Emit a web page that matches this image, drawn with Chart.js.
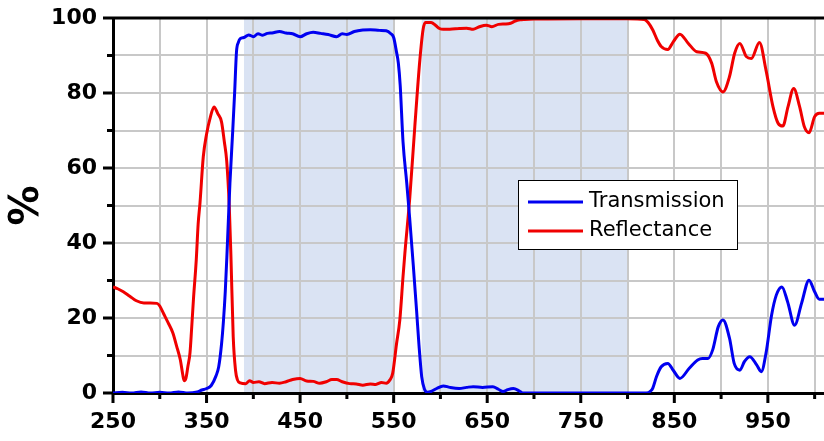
<!DOCTYPE html>
<html lang="en">
<head>
  <meta charset="UTF-8">
  <title>Transmission and Reflectance</title>
  <script src="https://cdn.jsdelivr.net/npm/chart.js"></script>
  <style>
    body {
      margin: 0;
      background: #fff;
    }
    #wrap {
      width: 824px;
      height: 441px;
      position: relative;
    }
  </style>
</head>
<body>
  <div id="wrap"><canvas id="spectrum"></canvas></div>

  <script>
    // wavelength (nm) and % values
    const transWl = [250, 260, 270, 280, 290, 300, 310, 320, 330, 340, 345, 350, 355, 360, 363, 366, 368, 370, 372, 375, 378, 380, 382, 384, 386, 390, 395, 400, 405, 410, 415, 420, 428, 435, 442, 450, 457, 464, 472, 480, 489, 495, 500, 508, 517, 525, 535, 542, 547, 550, 553, 555, 557, 560, 564, 567, 571, 574.5, 577, 580, 583, 586, 590, 596, 603, 610, 620, 628, 635, 645, 656, 662, 667, 672, 678, 684, 688, 700, 750, 800, 820, 825, 827, 831, 836, 843, 849, 856, 866, 875, 880, 886, 891, 897, 902, 909, 914, 920, 925, 930.6, 938, 943, 948, 954, 959, 965, 971, 978.6, 986, 994, 1000, 1005, 1010];
    const transVal = [0, 0.2, 0, 0.3, 0, 0.2, 0, 0.3, 0, 0.3, 0.8, 1.2, 2, 4.5, 7, 13, 19, 27, 38, 56, 70, 80, 91, 93.5, 94.5, 94.8, 95.5, 95, 95.8, 95.4, 95.9, 96, 96.4, 96, 95.8, 95, 95.8, 96.2, 95.9, 95.6, 95, 95.8, 95.6, 96.4, 96.8, 96.9, 96.7, 96.6, 95.8, 94.8, 91, 88, 82, 67, 56, 47, 34, 22, 13, 4.3, 1, 0.2, 0.4, 1.2, 1.9, 1.5, 1.2, 1.5, 1.7, 1.5, 1.7, 1, 0.4, 0.9, 1.2, 0.6, 0, 0, 0, 0, 0, 0.6, 1.3, 4.4, 7, 7.9, 6, 3.9, 6.6, 8.8, 9.2, 9.2, 11.5, 17.7, 19.5, 14.6, 7.9, 6.1, 8.4, 9.7, 7.5, 5.7, 10.6, 20.8, 26.1, 28.3, 24.4, 18.1, 23.9, 30.1, 27, 25, 25];

    const reflWl = [250, 255, 261, 268, 275, 283, 290, 297, 300, 304, 309, 314, 318, 322, 324.5, 326, 328, 330, 332.3, 334, 336, 339, 341, 343, 346.5, 350, 354, 358, 362, 366, 369, 371.5, 374.3, 376, 378.5, 381, 383, 386, 392, 396, 400, 406, 412, 420, 428, 435, 442, 450, 457, 464, 471, 478, 484, 489, 495, 503, 510, 517, 525, 531, 537, 542, 546, 549, 553, 556.6, 560, 562, 567.3, 572.6, 578, 581.5, 584, 590, 595, 599, 603, 610, 620, 628, 635, 641, 649, 655, 662, 670, 675, 680, 685, 690, 700, 750, 800, 818, 822, 827, 832, 836, 843, 849, 856, 865, 874, 883.5, 890, 895, 902, 909, 914.5, 920, 927, 932.3, 941, 948, 955.5, 961, 966, 971.5, 977.6, 984, 989, 994, 1000, 1005, 1010];
    const reflVal = [28.3, 27.8, 27, 25.8, 24.6, 24, 24, 23.9, 23.2, 21.2, 18.7, 16, 12.5, 8.8, 5, 3.3, 4, 7, 10.7, 17, 25, 35.5, 45, 50.7, 63, 69, 73.5, 76.3, 74.5, 72.3, 67, 62, 49.7, 37, 15, 6, 3.5, 2.7, 2.5, 3.3, 2.8, 3, 2.5, 2.8, 2.6, 3, 3.6, 3.9, 3.2, 3.1, 2.6, 3, 3.6, 3.6, 3, 2.5, 2.4, 2.1, 2.4, 2.3, 2.8, 2.6, 3.5, 5.3, 13, 19.5, 31, 37.3, 52.3, 71, 88.8, 97, 98.8, 98.8, 98, 97.2, 97, 97, 97.2, 97.3, 97, 97.6, 98.1, 97.7, 98.3, 98.4, 98.6, 99.2, 99.5, 99.6, 99.7, 99.8, 99.8, 99.6, 98.8, 96.8, 94, 92.4, 91.6, 93.7, 95.7, 93.2, 91, 90.6, 87.9, 83, 80.3, 84.4, 90.6, 93.2, 89.7, 89.2, 93.5, 86.1, 76.3, 71.9, 71.2, 76.3, 81.2, 76.3, 71, 69.4, 73.7, 74.6, 74.6];

    const xTickLabels = [250, 350, 450, 550, 650, 750, 850, 950];
    const yTickLabels = [0, 20, 40, 60, 80, 100];
    const shadedBands = [[390, 550], [580, 800]];

    const toPoints = (xs, ys) => xs.map((x, i) => ({ x: x, y: ys[i] }));

    // light blue bands behind the grid
    const bandPlugin = {
      id: 'bands',
      beforeDraw(chart) {
        const { ctx, chartArea, scales } = chart;
        ctx.save();
        ctx.fillStyle = '#dae3f3';
        shadedBands.forEach(b => {
          const x1 = scales.x.getPixelForValue(b[0]);
          const x2 = scales.x.getPixelForValue(b[1]);
          ctx.fillRect(x1, chartArea.top, x2 - x1, chartArea.bottom - chartArea.top);
        });
        ctx.restore();
      }
    };

    // outward tick marks (long = labelled, short = minor) and top frame line
    const framePlugin = {
      id: 'frame',
      afterDraw(chart) {
        const { ctx, chartArea, scales } = chart;
        ctx.save();
        ctx.strokeStyle = '#000';
        ctx.lineWidth = 3;
        ctx.beginPath();
        scales.x.ticks.forEach(t => {
          const px = scales.x.getPixelForValue(t.value);
          const len = xTickLabels.includes(t.value) ? 10 : 6;
          ctx.moveTo(px, chartArea.bottom);
          ctx.lineTo(px, chartArea.bottom + len);
        });
        scales.y.ticks.forEach(t => {
          const py = scales.y.getPixelForValue(t.value);
          const len = yTickLabels.includes(t.value) ? 10 : 6;
          ctx.moveTo(chartArea.left, py);
          ctx.lineTo(chartArea.left - len, py);
        });
        ctx.moveTo(chartArea.left, chartArea.top);
        ctx.lineTo(chartArea.right, chartArea.top);
        ctx.stroke();
        ctx.restore();
      }
    };

    // boxed legend inside the plot
    const legendPlugin = {
      id: 'boxLegend',
      afterDatasetsDraw(chart) {
        const { ctx, chartArea } = chart;
        const left = chartArea.left + 405;
        const top = chartArea.top + 162;
        ctx.save();
        ctx.fillStyle = '#fff';
        ctx.fillRect(left, top, 219, 69);
        ctx.strokeStyle = '#000';
        ctx.lineWidth = 1;
        ctx.strokeRect(left + 0.5, top + 0.5, 219, 69);
        ctx.font = '21px "DejaVu Sans"';
        ctx.textBaseline = 'middle';
        chart.data.datasets.forEach((ds, i) => {
          const y = top + 22 + i * 29;
          ctx.strokeStyle = ds.borderColor;
          ctx.lineWidth = 3;
          ctx.beginPath();
          ctx.moveTo(left + 10, y);
          ctx.lineTo(left + 65, y);
          ctx.stroke();
          ctx.fillStyle = '#000';
          ctx.fillText(ds.label, left + 71, y);
        });
        ctx.restore();
      }
    };

    const tickFont = { family: 'DejaVu Sans', size: 22, weight: 'bold' };

    const noPad = scale => {
      scale.paddingTop = 0;
      scale.paddingBottom = 0;
      scale.paddingLeft = 0;
      scale.paddingRight = 0;
    };

    new Chart(document.getElementById('spectrum'), {
      type: 'line',
      data: {
        datasets: [
          {
            label: 'Transmission',
            data: toPoints(transWl, transVal),
            borderColor: 'rgb(0, 0, 240)',
            borderWidth: 3,
            pointRadius: 0,
            cubicInterpolationMode: 'monotone'
          },
          {
            label: 'Reflectance',
            data: toPoints(reflWl, reflVal),
            borderColor: 'rgb(240, 0, 0)',
            borderWidth: 3,
            pointRadius: 0,
            cubicInterpolationMode: 'monotone'
          }
        ]
      },
      options: {
        responsive: true,
        maintainAspectRatio: false,
        animation: false,
        layout: { padding: { top: 18, right: 0, bottom: 0, left: 0 }, autoPadding: false },
        plugins: {
          legend: { display: false },
          tooltip: { enabled: false }
        },
        scales: {
          x: {
            type: 'linear',
            min: 250,
            max: 1010,
            afterBuildTicks: scale => {
              const t = [];
              for (let v = 250; v <= 1000; v += 50) t.push({ value: v });
              scale.ticks = t;
            },
            afterFit: scale => { scale.height = 48; noPad(scale); },
            ticks: {
              autoSkip: false,
              maxRotation: 0,
              padding: 16,
              color: '#000',
              font: tickFont,
              callback: v => xTickLabels.includes(v) ? String(v) : ''
            },
            grid: { color: '#c8c8c8', lineWidth: 2, drawTicks: false },
            border: { color: '#000', width: 3 }
          },
          y: {
            min: 0,
            max: 100,
            afterBuildTicks: scale => {
              const t = [];
              for (let v = 0; v <= 100; v += 10) t.push({ value: v });
              scale.ticks = t;
            },
            afterFit: scale => { scale.width = 113; noPad(scale); },
            ticks: {
              autoSkip: false,
              padding: 16,
              color: '#000',
              font: tickFont,
              callback: v => yTickLabels.includes(v) ? String(v) : ''
            },
            grid: { color: '#c8c8c8', lineWidth: 2, drawTicks: false },
            border: { color: '#000', width: 3 },
            title: {
              display: true,
              text: '%',
              color: '#000',
              font: { family: 'DejaVu Sans', size: 40, weight: 'bold' },
              padding: { top: 4, bottom: 0 }
            }
          }
        }
      },
      plugins: [bandPlugin, framePlugin, legendPlugin]
    });
  </script>
</body>
</html>
